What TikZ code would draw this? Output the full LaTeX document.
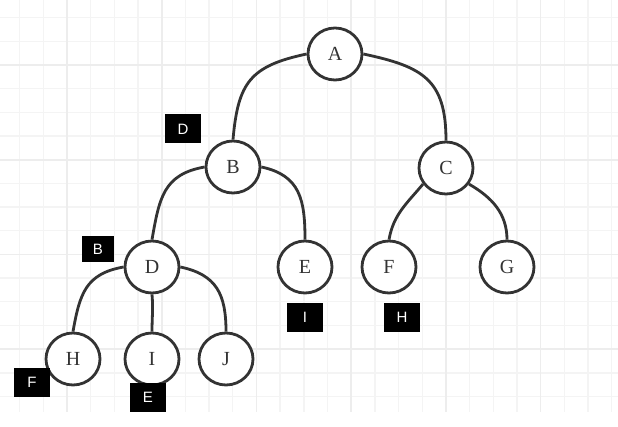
\documentclass[tikz,border=0pt]{standalone}
\usepackage{fontspec}
\setmainfont{Liberation Serif}
\newfontfamily\tagfont{Liberation Sans}
\usetikzlibrary{shapes.geometric}

\definecolor{inkgray}{HTML}{333333}
\definecolor{gridminor}{HTML}{F4F4F4}
\definecolor{gridmajor}{HTML}{EDEDED}

\tikzset{
  vtx/.style={ellipse, draw=inkgray, line width=2.8pt, fill=white, minimum width=54pt, minimum height=52pt, inner sep=0pt, text=inkgray, font=\fontsize{20}{24}\selectfont},
  tag/.style={fill=black, text=white, minimum width=36pt, minimum height=29pt, inner sep=0pt, font=\tagfont\fontsize{15}{18}\selectfont},
  link/.style={draw=inkgray, line width=2.8pt},
}

\begin{document}
\begin{tikzpicture}[x=1pt, y=1pt]
  \useasboundingbox (0,0) rectangle (618,-427);
  \fill[white] (0,0) rectangle (618,-427);

  % grid
  \foreach \i in {1,...,26}
    \draw[gridminor, line width=1.4pt] ({-4.04+23.68*\i},0) -- ({-4.04+23.68*\i},-412);
  \foreach \j in {0,...,16}
    \draw[gridminor, line width=1.4pt] (0,{-17.6-23.68*\j}) -- (618,{-17.6-23.68*\j});
  \foreach \i in {0,...,5}
    \draw[gridmajor, line width=1.6pt] ({67+94.72*\i},0) -- ({67+94.72*\i},-412);
  \foreach \j in {0,...,3}
    \draw[gridmajor, line width=1.6pt] (0,{-65-94.72*\j}) -- (618,{-65-94.72*\j});

  % tree nodes
  \node[vtx] (A) at (335,-54) {A};
  \node[vtx] (B) at (233,-167) {B};
  \node[vtx] (C) at (446,-168) {C};
  \node[vtx] (D) at (152,-267) {D};
  \node[vtx] (E) at (305,-267) {E};
  \node[vtx] (F) at (389,-267) {F};
  \node[vtx] (G) at (507,-267) {G};
  \node[vtx] (H) at (73,-359) {H};
  \node[vtx] (I) at (152,-359) {I};
  \node[vtx] (J) at (226,-359) {J};

  % connectors
  \draw[link] (A.west) to[out=192, in=85, looseness=1.3] (B.north);
  \draw[link] (A.east) to[out=-12, in=90, looseness=1.3] (C.north);
  \draw[link] (B.west) to[out=190, in=80, looseness=1.2] (D.north);
  \draw[link] (B.east) to[out=-12, in=90, looseness=1.2] (E.north);
  \draw[link] (C.215) to[out=230, in=80] (F.north);
  \draw[link] (C.325) to[out=-30, in=90] (G.north);
  \draw[link] (D.west) to[out=190, in=80, looseness=1.2] (H.north);
  \draw[link] (D.south) to[out=-85, in=90] (I.north);
  \draw[link] (D.east) to[out=-12, in=90, looseness=1.2] (J.north);

  % black tags
  \node[tag] (tD) at (183,-129) {D};
  \node[tag, minimum width=32pt, minimum height=26pt] (tB) at (98,-249) {B};
  \node[tag] (tF) at (32,-382.5) {F};
  \node[tag] (tE) at (148,-397.5) {E};
  \node[tag] (tI) at (305,-317.5) {I};
  \node[tag] (tH) at (402,-317.5) {H};
\end{tikzpicture}
\end{document}
